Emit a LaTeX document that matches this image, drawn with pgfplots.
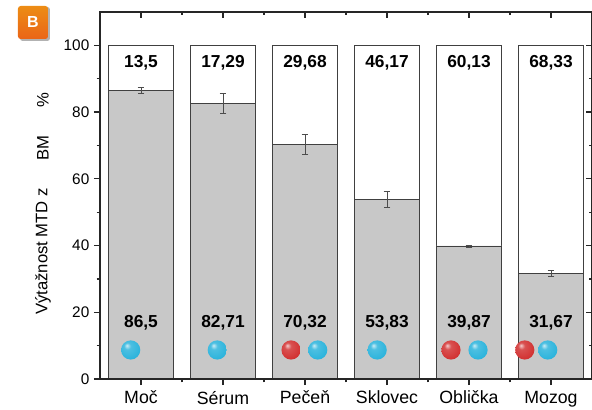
\documentclass[border=0pt]{standalone}
\usepackage{pgfplots}
\pgfplotsset{compat=1.18}
\usepackage{fontspec}
\setmainfont{Liberation Sans}
\definecolor{bargray}{RGB}{200,200,200}
\definecolor{ballblue}{RGB}{45,180,220}
\definecolor{ballred}{RGB}{210,50,50}
\definecolor{badge}{RGB}{232,112,26}
\pgfdeclareradialshading{sblue}{\pgfpoint{-10bp}{12bp}}{%
  color(0bp)=(white!75!ballblue); color(9bp)=(ballblue!85!white);
  color(30bp)=(ballblue); color(48bp)=(ballblue!75!black);
  color(62bp)=(ballblue!55!black)}
\pgfdeclareradialshading{sred}{\pgfpoint{-10bp}{12bp}}{%
  color(0bp)=(white!75!ballred); color(9bp)=(ballred!85!white);
  color(30bp)=(ballred); color(48bp)=(ballred!75!black);
  color(62bp)=(ballred!55!black)}
\pgfdeclareplotmark{sphereblue}{%
  \pgfpathcircle{\pgfpointorigin}{\pgfplotmarksize}\pgfshadepath{sblue}{0}\pgfusepath{}}
\pgfdeclareplotmark{spherered}{%
  \pgfpathcircle{\pgfpointorigin}{\pgfplotmarksize}\pgfshadepath{sred}{0}\pgfusepath{}}
\begin{document}
\begin{tikzpicture}[x=0.75pt,y=0.75pt]
\pgfplotsset{
  base/.style={
    scale only axis, width=369pt, height=275.25pt,
    xmin=0.5, xmax=6.5, ymin=0, ymax=110, clip=false,
    axis line style={line width=1.1pt, black!85},
    xtick={1,...,6}, minor xtick={1.5,2.5,3.5,4.5,5.5},
    ytick={0,20,...,100}, minor ytick={10,30,...,90},
    major tick length=4.5pt, minor tick length=2.5pt,
    tick style={line width=1pt, black!85},
    /pgf/number format/assume math mode=true,
  }
}
\tikzset{val/.style={font=\bfseries\fontsize{13pt}{15pt}\selectfont}}
\begin{axis}[base,
  ybar stacked, bar width=0.8,
  tick align=outside, xtick pos=left, ytick pos=left,
  xticklabels={Moč,Sérum,Pečeň,Sklovec,Oblička,Mozog},
  x tick label style={font=\fontsize{13.3pt}{15pt}\selectfont, yshift=-1pt},
  y tick label style={font=\fontsize{11.5pt}{13pt}\selectfont},
]
\addplot[fill=bargray, draw=black!75, line width=0.7pt]
coordinates {(1,86.5) (2,82.71) (3,70.32) (4,53.83) (5,39.87) (6,31.67)};
\addplot[fill=white, draw=black!75, line width=0.7pt]
coordinates {(1,13.5) (2,17.29) (3,29.68) (4,46.17) (5,60.13) (6,68.33)};
\end{axis}

\begin{axis}[base,
  tick align=inside, xtick pos=right, ytick pos=right,
  xticklabels={}, yticklabels={},
]
\addplot[draw=none, mark=none,
  error bars/.cd, y dir=both, y explicit,
  error bar style={black!70, line width=0.6pt},
  error mark options={rotate=90, mark size=2.6pt, black!70, line width=0.6pt}]
coordinates {
  (1,86.5) +- (0,0.9)
  (2,82.71) +- (0,3.0)
  (3,70.32) +- (0,3.1)
  (4,53.83) +- (0,2.4)
  (5,39.87) +- (0,0.3)
  (6,31.67) +- (0,1.0)
};
\addplot[only marks, mark=sphereblue, mark size=7.2pt]
coordinates {(0.874,8.7) (1.93,8.7) (3.155,8.7) (3.88,8.7) (5.11,8.7) (5.96,8.7)};
\addplot[only marks, mark=spherered, mark size=7.2pt]
coordinates {(2.83,8.7) (4.78,8.7) (5.68,8.7)};

\node[val] at (axis cs:1,94.7) {13,5};
\node[val] at (axis cs:2,94.7) {17,29};
\node[val] at (axis cs:3,94.7) {29,68};
\node[val] at (axis cs:4,94.7) {46,17};
\node[val] at (axis cs:5,94.7) {60,13};
\node[val] at (axis cs:6,94.7) {68,33};
\node[val] at (axis cs:1,16.8) {86,5};
\node[val] at (axis cs:2,16.8) {82,71};
\node[val] at (axis cs:3,16.8) {70,32};
\node[val] at (axis cs:4,16.8) {53,83};
\node[val] at (axis cs:5,16.8) {39,87};
\node[val] at (axis cs:6,16.8) {31,67};
\end{axis}

% y label pieces
\node[rotate=90, font=\fontsize{12.5pt}{14pt}\selectfont] at (-57,127.5) {Výtažnost MTD z};
\node[rotate=90, font=\fontsize{12.5pt}{14pt}\selectfont] at (-57,231) {BM};
\node[rotate=90, font=\fontsize{12.5pt}{14pt}\selectfont] at (-57,279) {\%};

% panel badge
\fill[black!30, rounded corners=2pt] (-80,338) rectangle (-50,372);
\shade[top color=badge!80!yellow, bottom color=badge!90!red, rounded corners=2pt]
  (-82,340) rectangle (-52,373);
\node[white, font=\bfseries\fontsize{12pt}{14pt}\selectfont] at (-67,356.5) {B};

\pgfresetboundingbox
\path[use as bounding box] (-100,-31) rectangle (492,379);
\end{tikzpicture}
\end{document}
